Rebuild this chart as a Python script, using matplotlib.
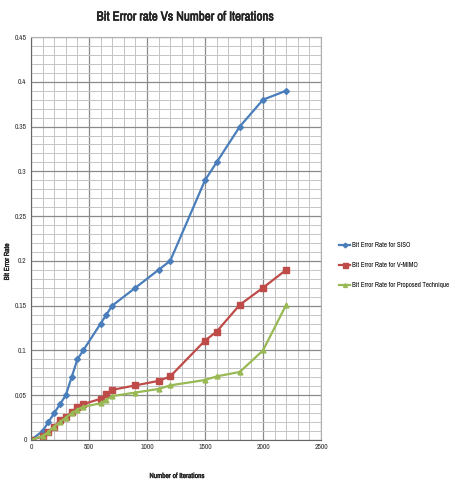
import matplotlib
matplotlib.use("Agg")
import matplotlib.pyplot as plt
from matplotlib import font_manager as fm
from matplotlib import patheffects as pe
from matplotlib.ticker import MultipleLocator, FuncFormatter

iterations = [0, 100, 150, 200, 250, 300, 350, 400, 450, 600, 650, 700, 900, 1100, 1200, 1500, 1600, 1800, 2000, 2200]
ber_siso = [0, 0.01, 0.02, 0.03, 0.04, 0.05, 0.07, 0.09, 0.10, 0.13, 0.14, 0.15, 0.17, 0.19, 0.20, 0.29, 0.31, 0.35, 0.38, 0.39]
ber_vmimo = [0, 0.004, 0.009, 0.015, 0.022, 0.026, 0.031, 0.037, 0.040, 0.046, 0.051, 0.056, 0.061, 0.066, 0.071, 0.111, 0.121, 0.151, 0.170, 0.190]
ber_prop = [0, 0.0045, 0.009, 0.015, 0.020, 0.025, 0.030, 0.034, 0.037, 0.041, 0.045, 0.049, 0.053, 0.057, 0.061, 0.067, 0.071, 0.076, 0.100, 0.151]
labels = ["Bit Error Rate for SISO", "Bit Error Rate for V-MIMO", "Bit Error Rate for Proposed Technique"]

names = sorted({f.name for f in fm.fontManager.ttflist})
pref = [n for n in names if "Liberation Sans Narrow" in n] + [n for n in names if ("Narrow" in n or "Condensed" in n)]
fam = pref[0] if pref else "Liberation Sans"

fig = plt.figure(figsize=(4.53, 4.83), dpi=100)
ax = fig.add_axes([31/453, 1-440/483, 290/453, 403/483])

ax.plot(iterations, ber_siso, color="#4A7EBB", lw=1.6, marker="D", ms=3, label=labels[0])
ax.plot(iterations, ber_vmimo, color="#BE4B48", lw=1.6, marker="s", ms=4.5, label=labels[1])
ax.plot(iterations, ber_prop, color="#98B954", lw=1.6, marker="^", ms=3.5, label=labels[2])

ax.set_xlim(0, 2500)
ax.set_ylim(0, 0.45)
ax.xaxis.set_major_locator(MultipleLocator(500))
ax.xaxis.set_minor_locator(MultipleLocator(100))
ax.yaxis.set_major_locator(MultipleLocator(0.05))
ax.yaxis.set_minor_locator(MultipleLocator(0.01))
ax.yaxis.set_major_formatter(FuncFormatter(lambda v, p: "%g" % round(v, 2)))
ax.grid(which="major", color="#8a8a8a", lw=0.9)
ax.grid(which="minor", color="#c4c4c4", lw=0.7)
ax.set_axisbelow(True)
ax.tick_params(which="both", length=0, labelsize=5.5, colors="#333333", pad=3)
for lab in ax.get_xticklabels() + ax.get_yticklabels():
    lab.set_family(fam)
for s in ["top", "right"]:
    ax.spines[s].set_color("#b0b0b0")
for s in ["left", "bottom"]:
    ax.spines[s].set_color("#666666")

bold_fx = [pe.withStroke(linewidth=0.45, foreground="#222222")]
bold_fx_small = [pe.withStroke(linewidth=0.25, foreground="#222222")]
fig.text(185/453, 1-17/483, "Bit Error rate Vs Number of Iterations", ha="center", va="center",
         fontsize=9.4, family=fam, color="#222222", path_effects=bold_fx)
fig.text(177/453, 1-476/483, "Number of Iterations", ha="center", va="center",
         fontsize=5.3, family=fam, color="#222222", path_effects=bold_fx_small)
fig.text(7/453, 1-262/483, "Bit Error Rate", ha="center", va="center", rotation=90,
         fontsize=5.3, family=fam, color="#222222", path_effects=bold_fx_small)

leg = fig.legend(loc="upper left", bbox_to_anchor=(333/453, 1-236/483), frameon=False,
                 handlelength=1.6, labelspacing=2.0, handletextpad=0.2, markerscale=0.8,
                 prop={"family": fam, "size": 5})
fig.savefig("out.png", dpi=100)
